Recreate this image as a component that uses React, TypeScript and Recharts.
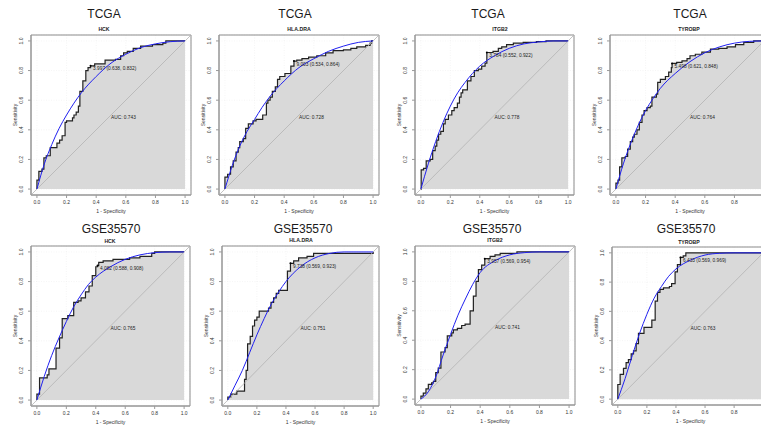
import {
  ComposedChart,
  Area,
  Line,
  XAxis,
  YAxis,
  CartesianGrid,
  ReferenceArea,
  ReferenceLine,
  ReferenceDot,
} from 'recharts';

// ---- data: [1 - specificity, sensitivity] ----
const TITLES = ['TCGA', 'TCGA', 'TCGA', 'TCGA', 'GSE35570', 'GSE35570', 'GSE35570', 'GSE35570'];
const GENES = ['HCK', 'HLA.DRA', 'ITGB2', 'TYROBP', 'HCK', 'HLA.DRA', 'ITGB2', 'TYROBP'];
const AUCS = ['0.743', '0.728', '0.778', '0.764', '0.765', '0.751', '0.741', '0.763'];
const CUTOFFS = ['3.997', '9.003', '3.784', '5.498', '4.082', '9.738', '3.957', '6.433'];
const BEST_SPEC = [0.638, 0.534, 0.552, 0.621, 0.588, 0.569, 0.569, 0.569];
const BEST_SENS = [0.832, 0.864, 0.922, 0.848, 0.908, 0.923, 0.954, 0.969];
const TICKS = [0, 0.2, 0.4, 0.6, 0.8, 1];

const TCGA_HCK_ROC = [
  [0, 0], [0, 0.06], [0.013, 0.12], [0.034, 0.135], [0.047, 0.21], [0.063, 0.225], [0.09, 0.28],
  [0.135, 0.31], [0.153, 0.33], [0.17, 0.36], [0.19, 0.45], [0.2, 0.46], [0.24, 0.48], [0.25, 0.5],
  [0.265, 0.52], [0.28, 0.56], [0.29, 0.66], [0.31, 0.73], [0.33, 0.8], [0.345, 0.82], [0.362, 0.832],
  [0.39, 0.845], [0.46, 0.87], [0.53, 0.875], [0.565, 0.9], [0.585, 0.92], [0.61, 0.93], [0.65, 0.95],
  [0.7, 0.965], [0.78, 0.975], [0.85, 0.985], [0.87, 1], [1, 1],
];
const TCGA_HLA_ROC = [
  [0, 0], [0, 0.08], [0.018, 0.1], [0.038, 0.15], [0.056, 0.19], [0.075, 0.25], [0.09, 0.28],
  [0.1, 0.32], [0.124, 0.34], [0.14, 0.41], [0.158, 0.44], [0.19, 0.46], [0.21, 0.47], [0.255, 0.5],
  [0.28, 0.58], [0.29, 0.6], [0.305, 0.62], [0.32, 0.66], [0.34, 0.69], [0.355, 0.74], [0.37, 0.76],
  [0.405, 0.78], [0.445, 0.83], [0.466, 0.864], [0.485, 0.87], [0.52, 0.88], [0.565, 0.89],
  [0.62, 0.9], [0.68, 0.92], [0.73, 0.935], [0.8, 0.94], [0.85, 0.95], [0.89, 0.96], [0.95, 0.97],
  [0.98, 0.985], [0.99, 1], [1, 1],
];
const TCGA_ITGB2_ROC = [
  [0, 0], [0.002, 0.13], [0.018, 0.14], [0.036, 0.19], [0.063, 0.2], [0.08, 0.26], [0.097, 0.29],
  [0.108, 0.33], [0.12, 0.37], [0.135, 0.39], [0.153, 0.44], [0.165, 0.47], [0.187, 0.5], [0.21, 0.53],
  [0.226, 0.55], [0.248, 0.58], [0.262, 0.62], [0.273, 0.65], [0.284, 0.67], [0.316, 0.73],
  [0.34, 0.76], [0.363, 0.8], [0.39, 0.81], [0.413, 0.83], [0.436, 0.85], [0.448, 0.922], [0.49, 0.93],
  [0.526, 0.95], [0.549, 0.96], [0.582, 0.975], [0.628, 0.985], [0.695, 0.99], [0.785, 0.995],
  [0.85, 1], [1, 1],
];
const TCGA_TYROBP_ROC = [
  [0, 0], [0, 0.04], [0.014, 0.06], [0.025, 0.15], [0.04, 0.21], [0.063, 0.22], [0.079, 0.27],
  [0.097, 0.32], [0.113, 0.35], [0.124, 0.37], [0.142, 0.4], [0.158, 0.45], [0.176, 0.5], [0.19, 0.53],
  [0.21, 0.55], [0.232, 0.56], [0.243, 0.62], [0.273, 0.64], [0.282, 0.72], [0.3, 0.74], [0.334, 0.76],
  [0.356, 0.79], [0.374, 0.82], [0.379, 0.848], [0.41, 0.855], [0.446, 0.865], [0.48, 0.88],
  [0.5, 0.9], [0.536, 0.91], [0.58, 0.925], [0.638, 0.945], [0.694, 0.95], [0.75, 0.96],
  [0.807, 0.975], [0.863, 0.99], [0.93, 1], [1, 1],
];
const GSE_HCK_ROC = [
  [0, 0], [0, 0.04], [0.018, 0.15], [0.07, 0.17], [0.082, 0.21], [0.13, 0.35], [0.154, 0.42],
  [0.172, 0.55], [0.21, 0.57], [0.25, 0.66], [0.28, 0.67], [0.3, 0.69], [0.33, 0.73], [0.354, 0.77],
  [0.376, 0.84], [0.4, 0.9], [0.412, 0.908], [0.42, 0.93], [0.45, 0.94], [0.517, 0.95], [0.63, 0.96],
  [0.7, 0.97], [0.78, 0.99], [0.8, 1], [1, 1],
];
const GSE_HLA_ROC = [
  [0, 0], [0, 0.02], [0.02, 0.04], [0.062, 0.06], [0.115, 0.14], [0.126, 0.2], [0.136, 0.38],
  [0.154, 0.43], [0.17, 0.5], [0.184, 0.54], [0.2, 0.56], [0.216, 0.6], [0.28, 0.62], [0.297, 0.66],
  [0.315, 0.69], [0.333, 0.72], [0.35, 0.74], [0.41, 0.87], [0.431, 0.923], [0.453, 0.94],
  [0.487, 0.96], [0.545, 0.97], [0.59, 0.99], [1, 1],
];
const GSE_ITGB2_ROC = [
  [0, 0], [0, 0.02], [0.016, 0.04], [0.034, 0.07], [0.05, 0.1], [0.072, 0.11], [0.084, 0.12],
  [0.1, 0.18], [0.117, 0.21], [0.135, 0.32], [0.163, 0.35], [0.178, 0.43], [0.208, 0.45],
  [0.219, 0.47], [0.246, 0.48], [0.275, 0.5], [0.298, 0.51], [0.332, 0.6], [0.354, 0.7],
  [0.372, 0.8], [0.388, 0.88], [0.41, 0.91], [0.431, 0.954], [0.467, 0.97], [0.5, 0.98],
  [0.535, 0.99], [0.648, 1], [1, 1],
];
const GSE_TYROBP_ROC = [
  [0, 0], [0, 0.1], [0.016, 0.17], [0.039, 0.21], [0.057, 0.25], [0.073, 0.27], [0.092, 0.31],
  [0.108, 0.33], [0.126, 0.38], [0.142, 0.45], [0.18, 0.49], [0.234, 0.54], [0.257, 0.67],
  [0.273, 0.73], [0.29, 0.75], [0.314, 0.76], [0.355, 0.77], [0.37, 0.79], [0.394, 0.87],
  [0.41, 0.92], [0.431, 0.969], [0.45, 0.98], [0.468, 1], [1, 1],
];

// smoothed (binormal) curves, blue
const TCGA_HCK_SMOOTH = [
  [0, 0], [0.05, 0.17], [0.1, 0.3], [0.15, 0.41], [0.2, 0.5], [0.25, 0.58], [0.3, 0.65], [0.4, 0.76],
  [0.5, 0.85], [0.6, 0.91], [0.7, 0.955], [0.8, 0.98], [0.9, 0.995], [1, 1],
];
const TCGA_HLA_SMOOTH = [
  [0, 0], [0.05, 0.16], [0.1, 0.29], [0.15, 0.39], [0.2, 0.47], [0.25, 0.55], [0.3, 0.62], [0.4, 0.73],
  [0.5, 0.82], [0.6, 0.88], [0.7, 0.93], [0.8, 0.965], [0.9, 0.99], [1, 1],
];
const TCGA_ITGB2_SMOOTH = [
  [0, 0], [0.05, 0.17], [0.1, 0.32], [0.15, 0.45], [0.2, 0.56], [0.25, 0.65], [0.3, 0.72], [0.35, 0.78],
  [0.4, 0.83], [0.5, 0.9], [0.6, 0.95], [0.7, 0.98], [0.8, 0.993], [0.9, 1], [1, 1],
];
const TCGA_TYROBP_SMOOTH = [
  [0, 0], [0.05, 0.17], [0.1, 0.31], [0.15, 0.43], [0.2, 0.53], [0.25, 0.61], [0.3, 0.68], [0.4, 0.78],
  [0.5, 0.86], [0.6, 0.92], [0.7, 0.96], [0.8, 0.985], [0.9, 0.997], [1, 1],
];
const GSE_HCK_SMOOTH = [
  [0, 0], [0.05, 0.16], [0.1, 0.3], [0.15, 0.42], [0.2, 0.53], [0.25, 0.63], [0.3, 0.71], [0.35, 0.78],
  [0.4, 0.83], [0.5, 0.9], [0.6, 0.95], [0.7, 0.98], [0.8, 0.995], [0.9, 1], [1, 1],
];
const GSE_HLA_SMOOTH = [
  [0, 0], [0.05, 0.1], [0.1, 0.2], [0.15, 0.32], [0.2, 0.44], [0.25, 0.55], [0.3, 0.65], [0.35, 0.73],
  [0.4, 0.8], [0.5, 0.9], [0.6, 0.96], [0.7, 0.99], [0.8, 1], [1, 1],
];
const GSE_ITGB2_SMOOTH = [
  [0, 0], [0.05, 0.05], [0.1, 0.15], [0.15, 0.3], [0.2, 0.44], [0.25, 0.57], [0.3, 0.68], [0.35, 0.78],
  [0.4, 0.86], [0.5, 0.94], [0.6, 0.98], [0.7, 0.995], [0.8, 1], [1, 1],
];
const GSE_TYROBP_SMOOTH = [
  [0, 0], [0.05, 0.14], [0.1, 0.3], [0.15, 0.45], [0.2, 0.58], [0.25, 0.69], [0.3, 0.77], [0.35, 0.84],
  [0.4, 0.89], [0.5, 0.95], [0.6, 0.985], [0.7, 0.997], [0.8, 1], [1, 1],
];

const ROCS = [TCGA_HCK_ROC, TCGA_HLA_ROC, TCGA_ITGB2_ROC, TCGA_TYROBP_ROC, GSE_HCK_ROC, GSE_HLA_ROC, GSE_ITGB2_ROC, GSE_TYROBP_ROC];
const SMOOTHS = [TCGA_HCK_SMOOTH, TCGA_HLA_SMOOTH, TCGA_ITGB2_SMOOTH, TCGA_TYROBP_SMOOTH, GSE_HCK_SMOOTH, GSE_HLA_SMOOTH, GSE_ITGB2_SMOOTH, GSE_TYROBP_SMOOTH];

// ---- layout (page pixels): plot box and title/subtitle centres ----
const LAYOUT = [
  { bx: 31, by: 35, bw: 160, bh: 160, tx: 104, ty: 14, gx: 104, gy: 29 },
  { bx: 219, by: 35, bw: 160, bh: 160, tx: 295, ty: 14, gx: 299, gy: 29 },
  { bx: 415, by: 35, bw: 159, bh: 160, tx: 488, ty: 14, gx: 500, gy: 29 },
  { bx: 610, by: 35, bw: 160, bh: 160, tx: 690, ty: 14, gx: 689, gy: 29 },
  { bx: 31, by: 246, bw: 159, bh: 160, tx: 111, ty: 229, gx: 110, gy: 241 },
  { bx: 222, by: 246, bw: 157, bh: 160, tx: 303, ty: 229, gx: 301, gy: 240 },
  { bx: 415, by: 246, bw: 160, bh: 159, tx: 492, ty: 229, gx: 495, gy: 240 },
  { bx: 612, by: 247, bw: 157, bh: 158, tx: 686, ty: 229, gx: 689, gy: 242 },
];

const PAGE_W = 761;
const PAGE_H = 427;
const FONT = '"Liberation Sans", Arial, Helvetica, sans-serif';
const LO = -0.04;
const HI = 1.04;
const ML = 30;
const MT = 30;
const MB = 25;
const MR = 6;

const toPts = (arr: number[][]) => arr.map(([x, y]) => ({ x, y }));

// x tick that hides itself when it would fall past the page edge (the figure is cropped there)
const XTick = (props: any) => {
  const { x, y, payload, pageLeft } = props;
  if (pageLeft + x + 5 > PAGE_W) return null;
  return (
    <text x={x} y={y} dy="0.71em" textAnchor="middle" fontSize={5} fill="#333" fontFamily={FONT}>
      {Number(payload.value).toFixed(1)}
    </text>
  );
};

const YTick = (props: any) => {
  const { x, y, payload } = props;
  const bx = x - 3;
  return (
    <text
      x={bx}
      y={y}
      transform={`rotate(-90 ${bx} ${y})`}
      textAnchor="middle"
      fontSize={5}
      fill="#333"
      fontFamily={FONT}
    >
      {Number(payload.value).toFixed(1)}
    </text>
  );
};

const textLabel = (text: string, dx: number, dy: number) => (props: any) => {
  const vb = props.viewBox || {};
  return (
    <text
      x={(vb.x ?? 0) + (vb.width ?? 0) + dx}
      y={(vb.y ?? 0) + (vb.height ?? 0) / 2 + dy}
      fontSize={4.8}
      fill="#222"
      fontFamily={FONT}
    >
      {text}
    </text>
  );
};

function RocPanel({ i }: { i: number }) {
  const L = LAYOUT[i];
  const roc = toPts(ROCS[i]);
  const smooth = toPts(SMOOTHS[i]);
  const bestX = 1 - BEST_SPEC[i];
  const bestY = BEST_SENS[i];
  const label = `${CUTOFFS[i]} (${BEST_SPEC[i].toFixed(3)}, ${BEST_SENS[i].toFixed(3)})`;
  const pageLeft = L.bx - ML;

  return (
    <div style={{ position: 'absolute', left: pageLeft, top: L.by - MT }}>
      <ComposedChart
        width={L.bw + ML + MR}
        height={L.bh + MT + MB}
        margin={{ top: MT, right: MR, left: 0, bottom: 0 }}
      >
        <CartesianGrid stroke="#eeeeee" strokeWidth={0.6} strokeDasharray="1 1.5" />
        <XAxis
          type="number"
          dataKey="x"
          domain={[LO, HI]}
          ticks={TICKS}
          allowDataOverflow
          height={MB}
          tickSize={3}
          tickMargin={2}
          stroke="#9a9a9a"
          tick={<XTick pageLeft={pageLeft} />}
          interval={0}
        />
        <YAxis
          type="number"
          dataKey="y"
          domain={[LO, HI]}
          ticks={TICKS}
          allowDataOverflow
          width={ML}
          tickSize={3}
          tickMargin={2}
          stroke="#9a9a9a"
          tick={<YTick />}
          interval={0}
        />
        <Area
          data={roc}
          dataKey="y"
          type="stepAfter"
          baseValue={0}
          fill="#d9d9d9"
          fillOpacity={1}
          stroke="#222"
          strokeWidth={1.2}
          dot={false}
          activeDot={false}
          isAnimationActive={false}
        />
        <ReferenceLine
          segment={[{ x: LO, y: LO }, { x: HI, y: HI }]}
          stroke="#b4b4b4"
          strokeWidth={0.8}
          ifOverflow="visible"
        />
        <Line
          data={smooth}
          dataKey="y"
          type="monotone"
          stroke="#2020f0"
          strokeWidth={1}
          dot={false}
          activeDot={false}
          isAnimationActive={false}
        />
        <ReferenceDot
          x={bestX}
          y={bestY}
          r={1}
          fill="#000"
          stroke="none"
          label={textLabel(label, 1.5, 4.5)}
        />
        <ReferenceDot
          x={0.5}
          y={0.5}
          r={0}
          fill="none"
          stroke="none"
          label={textLabel(`AUC: ${AUCS[i]}`, 0, 3.5)}
        />
        <ReferenceArea
          x1={LO}
          x2={HI}
          y1={LO}
          y2={HI}
          fill="none"
          stroke="#8c8c8c"
          strokeWidth={1}
          ifOverflow="visible"
        />
      </ComposedChart>
    </div>
  );
}

export default function App() {
  return (
    <div
      style={{
        position: 'absolute',
        left: 0,
        top: 0,
        width: PAGE_W,
        height: PAGE_H,
        overflow: 'hidden',
        background: '#fff',
      }}
    >
      {LAYOUT.map((_, i) => (
        <RocPanel key={i} i={i} />
      ))}
      <svg
        width={PAGE_W}
        height={PAGE_H}
        style={{ position: 'absolute', left: 0, top: 0, pointerEvents: 'none' }}
      >
        {LAYOUT.map((L, i) => (
          <g key={i} fontFamily={FONT}>
            <text x={L.tx} y={L.ty} textAnchor="middle" dominantBaseline="central" fontSize={12} fill="#1a1a1a">
              {TITLES[i]}
            </text>
            <text x={L.gx} y={L.gy} textAnchor="middle" dominantBaseline="central" fontSize={5.2} fontWeight="bold" fill="#222">
              {GENES[i]}
            </text>
            <text
              x={L.bx + L.bw / 2}
              y={L.by + L.bh + 16}
              textAnchor="middle"
              dominantBaseline="central"
              fontSize={5}
              fill="#333"
            >
              1 - Specificity
            </text>
            <text
              x={L.bx - 14}
              y={L.by + L.bh / 2}
              transform={`rotate(-90 ${L.bx - 14} ${L.by + L.bh / 2})`}
              textAnchor="middle"
              fontSize={5}
              fill="#333"
            >
              Sensitivity
            </text>
          </g>
        ))}
      </svg>
    </div>
  );
}
